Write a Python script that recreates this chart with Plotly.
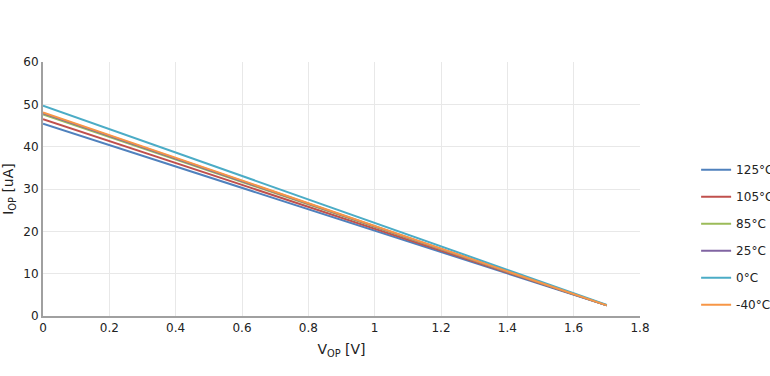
import plotly.graph_objects as go

names = ["125°C", "105°C", "85°C", "25°C", "0°C", "-40°C"]
colors = ["#4F81BD", "#C0504D", "#9BBB59", "#8064A2", "#4BACC6", "#F79646"]
v_op = [0, 1.7]
i_125 = [45.4, 2.5]
i_105 = [46.5, 2.5]
i_85 = [47.6, 2.5]
i_25 = [47.9, 2.5]
i_0 = [49.7, 2.6]
i_m40 = [48.1, 2.5]
series = [i_125, i_105, i_85, i_25, i_0, i_m40]

fig = go.Figure()
for n, c, ys in zip(names, colors, series):
    fig.add_trace(go.Scatter(x=v_op, y=ys, mode="lines", name=n, legendgroup=n,
                             line=dict(color=c, width=2)))

font = dict(family="DejaVu Sans, Verdana, sans-serif", size=12, color="#222")
fig.update_layout(
    width=770, height=376,
    margin=dict(l=43, r=130, t=62, b=60, autoexpand=False),
    paper_bgcolor="white", plot_bgcolor="white",
    font=font,
    showlegend=True,
    legend=dict(x=1.094, xanchor="left", y=0.31, yanchor="middle",
                font=dict(family="DejaVu Sans, Verdana, sans-serif", size=12, color="#222"),
                tracegroupgap=8, bgcolor="rgba(0,0,0,0)"),
    xaxis=dict(range=[0, 1.8], dtick=0.2, showgrid=True, gridcolor="#e8e8e8",
               showline=True, linecolor="#a0a0a0", linewidth=2, zeroline=False,
               automargin=False, ticks="",
               title=dict(text="V<sub>OP</sub> [V]", standoff=10)),
    yaxis=dict(range=[0, 60], dtick=10, showgrid=True, gridcolor="#e8e8e8",
               showline=True, linecolor="#a0a0a0", linewidth=2, zeroline=False,
               automargin=False, ticks="",
               title=dict(text="I<sub>OP</sub> [uA]", standoff=6)),
)
fig.write_html("out.html", post_script="document.body.style.margin='0';",
               config={"displayModeBar": False})
